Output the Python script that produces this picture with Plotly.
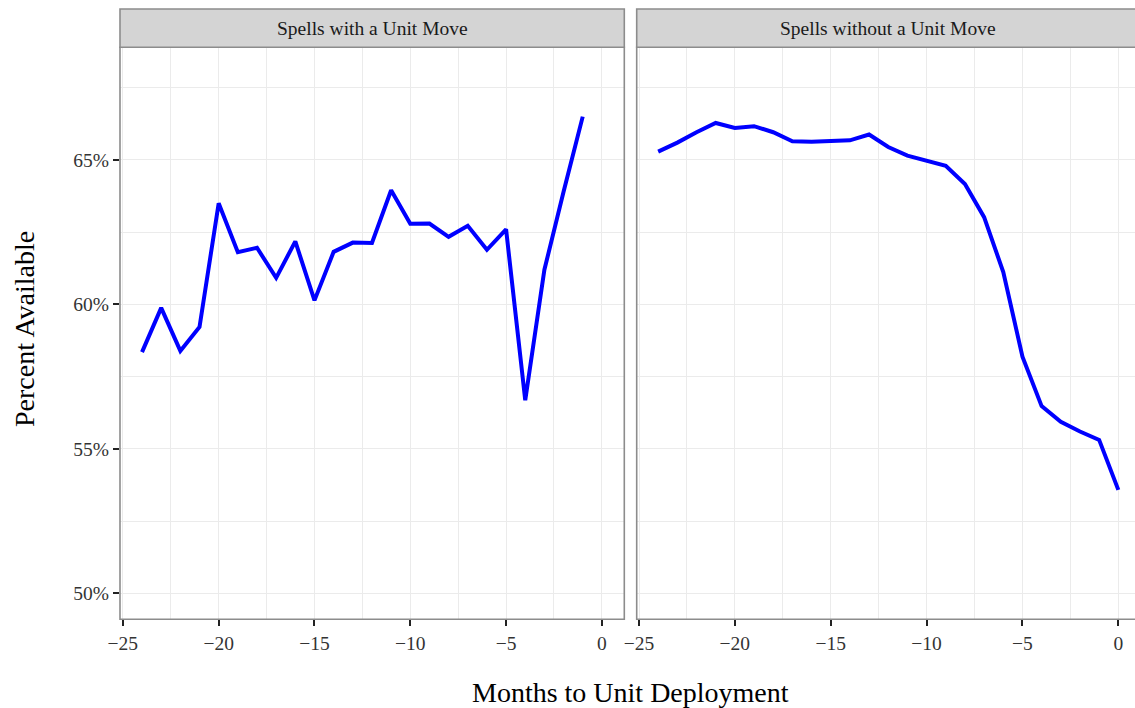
import plotly.graph_objects as go

# Months relative to deployment and percent of soldiers available
months_with = [-24, -23, -22, -21, -20, -19, -18, -17, -16, -15, -14, -13,
               -12, -11, -10, -9, -8, -7, -6, -5, -4, -3, -2, -1]
avail_with = [58.35, 59.88, 58.39, 59.22, 63.50, 61.81, 61.96, 60.92, 62.18,
              60.14, 61.82, 62.14, 62.13, 63.95, 62.79, 62.80, 62.34, 62.72,
              61.89, 62.60, 56.68, 61.20, 63.90, 66.50]

months_without = [-24, -23, -22, -21, -20, -19, -18, -17, -16, -15, -14, -13,
                  -12, -11, -10, -9, -8, -7, -6, -5, -4, -3, -2, -1, 0]
avail_without = [65.29, 65.60, 65.96, 66.28, 66.11, 66.17, 65.96, 65.65, 65.63,
                 65.65, 65.68, 65.88, 65.45, 65.15, 64.98, 64.80, 64.17, 63.02,
                 61.12, 58.19, 56.48, 55.94, 55.60, 55.31, 53.58]

panel_titles = ["Spells with a Unit Move", "Spells without a Unit Move"]
x_title = "Months to Unit Deployment"
y_title = "Percent Available"

W, H = 1135, 708
SERIF = "Liberation Serif, Times New Roman, serif"
LINE = "#0000FF"
GRID = "#EBEBEB"
BORDER = "#8C8C8C"


def px_x(p):
    return p / W


def px_y(p):
    return 1 - p / H


panel_top, panel_bot = 47.3, 619.3
strip_top = 9.0
left_dom = [px_x(120), px_x(624.3)]
right_dom = [px_x(636.7), 1.0]
y_dom = [px_y(panel_bot), px_y(panel_top)]

fig = go.Figure()
fig.add_trace(go.Scatter(x=months_with, y=avail_with, mode="lines",
                         line=dict(color=LINE, width=4), xaxis="x", yaxis="y",
                         showlegend=False))
fig.add_trace(go.Scatter(x=months_without, y=avail_without, mode="lines",
                         line=dict(color=LINE, width=4), xaxis="x2", yaxis="y2",
                         showlegend=False))

tickfont = dict(family=SERIF, size=19.5, color="#333333")
xcommon = dict(tickmode="linear", tick0=0, dtick=5, showgrid=True,
               gridcolor=GRID, gridwidth=1.2, zeroline=False,
               ticks="outside", ticklen=6, tickwidth=2, tickcolor="#222222",
               tickfont=tickfont, showline=False, automargin=False,
               minor=dict(tickmode="linear", tick0=0, dtick=2.5, showgrid=True,
                          gridcolor=GRID, gridwidth=0.8, ticks=""))
ycommon = dict(range=[49.1, 68.9], domain=y_dom, tickmode="linear", tick0=50,
               dtick=5, showgrid=True, gridcolor=GRID, gridwidth=1.2,
               zeroline=False, automargin=False, showline=False,
               minor=dict(tickmode="linear", tick0=50, dtick=2.5, showgrid=True,
                          gridcolor=GRID, gridwidth=0.8, ticks=""))

fig.update_layout(
    width=W, height=H,
    margin=dict(l=0, r=0, t=0, b=0),
    paper_bgcolor="white", plot_bgcolor="white",
    xaxis=dict(domain=left_dom, range=[-25.15, 1.17], anchor="y", **xcommon),
    xaxis2=dict(domain=right_dom, range=[-25.12, 0.87], anchor="y2", **xcommon),
    yaxis=dict(anchor="x", ticks="outside", ticklen=6, tickwidth=2,
               tickcolor="#222222", tickfont=tickfont, ticksuffix="%",
               **ycommon),
    yaxis2=dict(anchor="x2", showticklabels=False, ticks="", **ycommon),
)

shapes = []
# panel borders
shapes.append(dict(type="rect", xref="paper", yref="paper",
                   x0=left_dom[0], x1=left_dom[1], y0=y_dom[0], y1=y_dom[1],
                   line=dict(color=BORDER, width=1.6), fillcolor="rgba(0,0,0,0)",
                   layer="above"))
shapes.append(dict(type="path", xref="paper", yref="paper",
                   path=(f"M 1.01,{y_dom[1]} L {right_dom[0]},{y_dom[1]} "
                         f"L {right_dom[0]},{y_dom[0]} L 1.01,{y_dom[0]}"),
                   line=dict(color=BORDER, width=1.6), layer="above"))
# facet strips
shapes.append(dict(type="rect", xref="paper", yref="paper",
                   x0=left_dom[0], x1=left_dom[1],
                   y0=px_y(panel_top), y1=px_y(strip_top),
                   line=dict(color=BORDER, width=1.6), fillcolor="#D4D4D4"))
shapes.append(dict(type="rect", xref="paper", yref="paper",
                   x0=right_dom[0], x1=1.01,
                   y0=px_y(panel_top), y1=px_y(strip_top),
                   line=dict(color=BORDER, width=1.6), fillcolor="#D4D4D4"))
fig.update_layout(shapes=shapes)

strip_font = dict(family=SERIF, size=19.5, color="#1A1A1A")
strip_mid = px_y((panel_top + strip_top) / 2)
annotations = [
    dict(text=panel_titles[0], x=px_x(372.2), y=strip_mid, xref="paper",
         yref="paper", showarrow=False, font=strip_font,
         xanchor="center", yanchor="middle"),
    dict(text=panel_titles[1], x=px_x(888), y=strip_mid, xref="paper",
         yref="paper", showarrow=False, font=strip_font,
         xanchor="center", yanchor="middle"),
    dict(text=x_title, x=px_x(630.7), y=px_y(692), xref="paper", yref="paper",
         showarrow=False, font=dict(family=SERIF, size=28, color="black"),
         xanchor="center", yanchor="middle"),
    dict(text=y_title, x=px_x(24), y=px_y(329), xref="paper", yref="paper",
         showarrow=False, textangle=-90,
         font=dict(family=SERIF, size=28, color="black"),
         xanchor="center", yanchor="middle"),
]
fig.update_layout(annotations=annotations)

fig.write_html("out.html")
